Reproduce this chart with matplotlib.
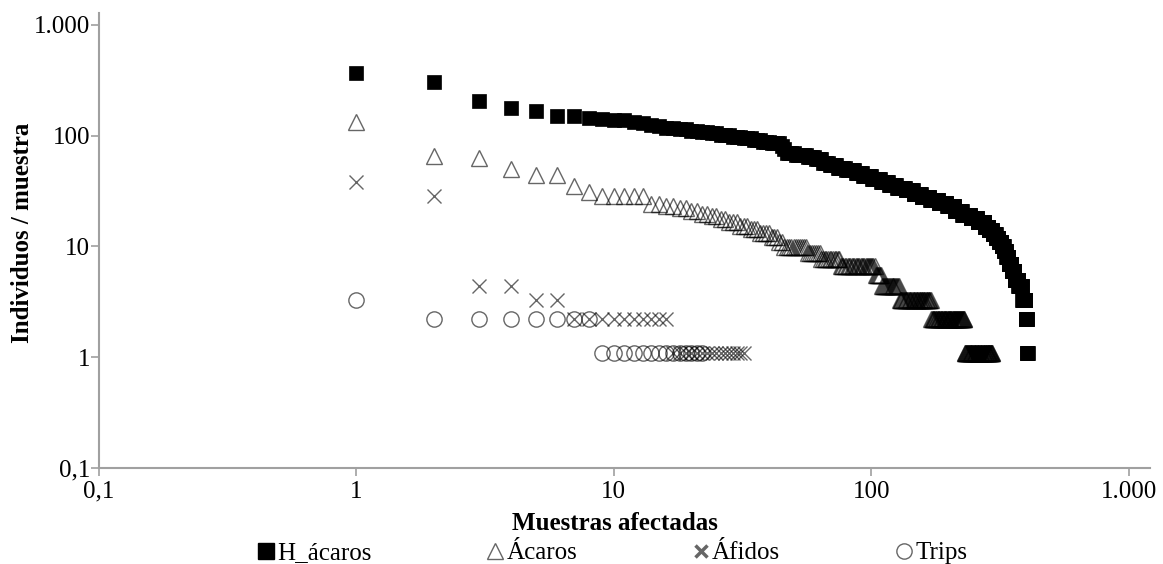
import matplotlib
matplotlib.use("Agg")

import matplotlib.pyplot as plt
import numpy as np
from matplotlib.lines import Line2D

plt.rcParams["font.family"] = ["Liberation Serif", "DejaVu Serif"]

# rank-abundance data, stored as (level, number of samples at that level)
h_acaros_levels = [365, 305, 207, 178, 166, 150, 145, 141, 137, 132, 130, 125, 121,
                   118, 115, 111, 108, 105, 101, 98, 95, 91, 88, 85, 80, 75, 70, 67,
                   64, 61, 57, 54, 51, 49, 46, 43, 41, 38, 36, 34, 32, 30, 28, 26,
                   24.5, 23, 21, 19.3, 18, 16.5, 15, 14, 13, 12, 11, 10, 9, 8, 7, 6,
                   5, 4.4, 3.3, 2.2, 1.1]
h_acaros_counts = [1, 1, 1, 1, 1, 2, 1, 1, 2, 1, 1, 1, 1,
                   2, 2, 2, 2, 2, 3, 3, 3, 3, 3, 4, 1, 1, 4, 6,
                   4, 4, 4, 5, 6, 7, 6, 8, 8, 8, 9, 10, 10, 11, 12, 14,
                   14, 14, 15, 17, 16, 17, 10, 10, 9, 8, 8, 7, 7, 7, 9, 10,
                   12, 13, 12, 5, 3]

acaros_levels = [132, 66, 63, 50, 44, 35, 31, 28.6, 24.2, 23.1, 22, 20.9, 19.8,
                 18.7, 17.6, 16.5, 15.4, 14.3, 13.2, 12.1, 11, 9.9, 8.8, 7.7,
                 6.6, 5.5, 4.4, 3.3, 2.2, 1.1]
acaros_counts = [1, 1, 1, 1, 2, 1, 1, 5, 2, 2, 2, 2, 2,
                 2, 2, 3, 3, 3, 4, 3, 2, 11, 7, 12,
                 28, 6, 19, 42, 60, 65]

afidos_levels = [38.5, 28.6, 4.4, 3.3, 2.2, 1.1]
afidos_counts = [1, 1, 2, 2, 10, 16]

trips_levels = [3.3, 2.2, 1.1]
trips_counts = [1, 7, 14]

tick_vals = [0.1, 1, 10, 100, 1000]
tick_labels = ["0,1", "1", "10", "100", "1.000"]

EDGE = (0, 0, 0, 0.6)       # translucent so that dense runs darken
GRAY = "#666666"
AXIS_GRAY = "#a0a0a0"
FS = 18


def expand(levels, counts):
    y = np.repeat(np.asarray(levels, dtype=float), counts)
    x = np.arange(1, len(y) + 1)
    return x, y


fig = plt.figure(figsize=(11.63, 5.64), dpi=100)
ax = fig.add_axes([0.0851, 0.1702, 0.9037, 0.8068])

x, y = expand(h_acaros_levels, h_acaros_counts)
ax.plot(x, y, ls="", marker="s", ms=10, mfc="black", mec="black", mew=0.5)

x, y = expand(acaros_levels, acaros_counts)
ax.plot(x, y, ls="", marker="^", ms=11.5, mfc="none", mec=EDGE, mew=1.0)

x, y = expand(afidos_levels, afidos_counts)
ax.plot(x, y, ls="", marker="x", ms=10.5, mec=EDGE, mew=1.0)

x, y = expand(trips_levels, trips_counts)
ax.plot(x, y, ls="", marker="o", ms=11, mfc="none", mec=EDGE, mew=1.0)

ax.set_xscale("log")
ax.set_yscale("log")
ax.set_xlim(0.1, 1210)
ax.set_ylim(0.1, 1280)

ax.set_xticks(tick_vals)
ax.set_xticklabels(tick_labels)
ax.set_yticks(tick_vals)
ax.set_yticklabels(tick_labels)
ax.minorticks_off()
ax.tick_params(axis="both", which="major", length=6, width=1.2, color=AXIS_GRAY,
               labelsize=FS, direction="out")
ax.tick_params(axis="y", pad=0.5)
ax.tick_params(axis="x", pad=3)

for side in ("top", "right"):
    ax.spines[side].set_visible(False)
for side in ("left", "bottom"):
    ax.spines[side].set_color(AXIS_GRAY)
    ax.spines[side].set_linewidth(1.5)

ax.set_xlabel("Muestras afectadas", fontsize=FS, fontweight="bold")
ax.set_ylabel("Individuos / muestra", fontsize=FS, fontweight="bold")
ax.xaxis.set_label_coords(0.491, -0.097)
ax.yaxis.set_label_coords(-0.062, 0.516)

handles = [
    Line2D([], [], ls="", marker="s", ms=11, mfc="black", mec="black"),
    Line2D([], [], ls="", marker="^", ms=11, mfc="none", mec=GRAY, mew=1.0),
    Line2D([], [], ls="", marker="x", ms=9, mec=GRAY, mew=2.5),
    Line2D([], [], ls="", marker="o", ms=11, mfc="none", mec=GRAY, mew=1.0),
]
labels = ["H_ácaros", "Ácaros", "Áfidos", "Trips"]
fig.legend(handles, labels, loc="center", bbox_to_anchor=(612 / 1163, 1 - 553 / 564),
           ncol=4, frameon=False, fontsize=FS, handlelength=0.7, handletextpad=0.1,
           columnspacing=4.6, borderpad=0, borderaxespad=0)

fig.savefig("out.png", dpi=100)
plt.close(fig)
